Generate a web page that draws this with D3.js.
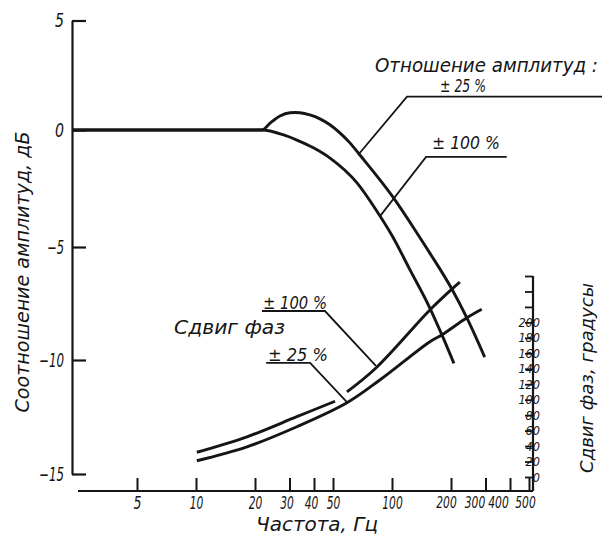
<!DOCTYPE html>
<html><head><meta charset="utf-8">
<script src="https://cdn.jsdelivr.net/npm/d3@7"></script>
<style>
body{margin:0;background:#fff}
svg text{font-family:"Liberation Sans Narrow","DejaVu Sans Condensed","Liberation Sans",sans-serif;font-style:italic;fill:#151515}
</style></head><body>
<svg id="c" width="602" height="537"></svg>
<script>
// ---- data ----
const freqTicks = [5, 10, 20, 30, 40, 50, 100, 200, 300, 400, 500];
const ampTicks = [5, 0, -5, -10, -15];
const phaseTicks = [0, 20, 40, 60, 80, 100, 120, 140, 160, 180, 200, 220, 240, 260];
const phaseLabels = [0, 20, 40, 60, 80, 100, 120, 140, 160, 180, 200];
// amplitude ratio ±25 %  [frequency Hz, dB]
const amp25 = [[2.33,0],[10,0],[21.7,0],[23.8,0.3],[26.8,0.64],[30.2,0.79],[32.0,0.8],[33.9,0.79],[38.1,0.69],[42.9,0.51],[48.2,0.24],[54.2,-0.12],[61.0,-0.55],[68.6,-1.07],[101,-2.86],[134,-4.4],[156,-5.27],[202,-6.86],[241,-8.14],[297,-9.87]];
// amplitude ratio ±100 %
const amp100 = [[2.33,0],[10,0],[21.7,0],[27.8,-0.2],[32.7,-0.43],[39.5,-0.75],[48.3,-1.2],[66.3,-2.26],[83.6,-3.46],[101,-4.57],[123,-5.98],[156,-7.7],[180,-8.9],[207,-10.15]];
// phase shift ±100 %  [frequency Hz, degrees]  (null = break in the drawn line)
const phase100 = [[10.1,32],[18.2,52],[32.7,78],[51.2,98],null,[58.9,110],[83.6,142],[156,216],[202,243],[222,252]];
// phase shift ±25 %
const phase25 = [[10.1,21],[18.2,39],[32.7,65],[58.9,96],[86.7,125.5],[156,175],[180,184],[241,206],[287,217]];

// ---- scales ----
const svg = d3.select("#c");
const x = d3.scaleLog().domain([2.5, 500]).range([78, 529]);
const yA = d3.scaleLinear().domain([-15, -10, -5, 0, 5]).range([474, 360, 247, 130, 20.5]);
const yP = d3.scaleLinear().domain([0, 260]).range([477, 276]);
const leftX = 72, rightX = x(500) + 4, baseY = 491;
const ink = "#151515";

// ---- left axis ----
const gL = svg.append("g").attr("transform", `translate(${leftX},0)`)
  .call(d3.axisLeft(yA).tickValues(ampTicks).tickSize(-14).tickSizeOuter(0).tickPadding(8));
gL.select(".domain").attr("stroke", ink).attr("stroke-width", 2.2);
gL.selectAll(".tick line").attr("stroke", ink).attr("stroke-width", 2.2);
gL.selectAll(".tick text").style("font-size", "19px").attr("fill", ink)
  .each(function(d){ const s = String(d).length; d3.select(this).attr("textLength", d < 0 ? 9 + 8*(s-1) : 9).attr("lengthAdjust","spacingAndGlyphs"); });

// ---- bottom axis ----
const labShift = {200: -5, 300: -11, 400: -12, 500: -4, 30: -3, 40: -3};
const gB = svg.append("g").attr("transform", `translate(0,${baseY})`)
  .call(d3.axisBottom(x).tickValues(freqTicks).tickSize(-13).tickSizeOuter(0).tickPadding(6).tickFormat(d3.format("d")));
gB.select(".domain").remove();
gB.append("line").attr("x1", x(2.5)).attr("x2", rightX).attr("stroke", ink).attr("stroke-width", 2.2);
gB.selectAll(".tick line").attr("stroke", ink).attr("stroke-width", 2);
gB.selectAll(".tick text").style("font-size", d => d >= 200 ? "15px" : "17px").attr("fill", ink)
  .attr("dx", d => labShift[d] || 0)
  .attr("textLength", d => String(d).length > 1 ? 6.8*String(d).length : 8).attr("lengthAdjust","spacingAndGlyphs");

// ---- right (phase) axis ----
const gR = svg.append("g").attr("transform", `translate(${rightX},0)`)
  .call(d3.axisLeft(yP).tickValues(phaseTicks).tickSize(8).tickSizeOuter(0).tickFormat(""));
gR.select(".domain").remove();
gR.append("line").attr("y1", yP(260)).attr("y2", baseY).attr("stroke", ink).attr("stroke-width", 2.2);
gR.selectAll(".tick line").attr("stroke", ink).attr("stroke-width", 1.8);
gR.selectAll(".lab").data(phaseLabels).join("text").attr("class", "lab")
  .attr("x", 7).attr("y", d => yP(d)).attr("dy", "0.36em")
  .style("font-size", "12.5px")
  .attr("textLength", d => 7.2*String(d).length).attr("lengthAdjust","spacingAndGlyphs")
  .text(d => d);

// ---- curves ----
const lineA = d3.line().x(d => x(d[0])).y(d => yA(d[1])).curve(d3.curveMonotoneX);
const lineP = d3.line().defined(d => d).x(d => x(d[0])).y(d => yP(d[1])).curve(d3.curveCatmullRom.alpha(0.5));
[amp25, amp100].forEach(s => svg.append("path").attr("d", lineA(s)).attr("fill", "none").attr("stroke", ink).attr("stroke-width", 2.9));
[phase100, phase25].forEach(s => svg.append("path").attr("d", lineP(s)).attr("fill", "none").attr("stroke", ink).attr("stroke-width", 2.9));

// ---- leader lines (data coordinates) ----
const leadersA = [
  [[67.1,-1.07],[119.3,1.52],[1200,1.52]],
  [[86.9,-3.68],[149.2,-1.15],[385,-1.15]]
];
const leadersP = [
  [[82.8,143.6],[45.5,214.7],[21.7,214.7]],
  [[58.9,97],[38.2,147.5],[22.8,147.5]]
];
const lA = d3.line().x(d => x(d[0])).y(d => yA(d[1]));
const lP = d3.line().x(d => x(d[0])).y(d => yP(d[1]));
leadersA.forEach(s => svg.append("path").attr("d", lA(s)).attr("fill", "none").attr("stroke", ink).attr("stroke-width", 1.8));
leadersP.forEach(s => svg.append("path").attr("d", lP(s)).attr("fill", "none").attr("stroke", ink).attr("stroke-width", 1.8));

// ---- texts ----
function txt(t, px, py, size, len, rot) {
  const e = svg.append("text").attr("x", px).attr("y", py).style("font-size", size + "px").text(t);
  if (len) e.attr("textLength", len).attr("lengthAdjust", "spacingAndGlyphs");
  if (rot) e.attr("transform", `rotate(-90 ${px} ${py})`).attr("text-anchor", "middle");
  return e;
}
txt("Отношение амплитуд :", 375, 72, 19, 223);
txt("± 25 %", 440, 92, 17, 46);
txt("± 100 %", 432, 149, 17, 68);
txt("± 100 %", 263, 309, 17, 64);
txt("Сдвиг фаз", 174, 334, 19, 111);
txt("± 25 %", 268, 361, 17, 60);
txt("Частота, Гц", 256, 531, 19, 122);
txt("Соотношение амплитуд, дБ", 29, 272, 19, 281, true);
txt("Сдвиг фаз, градусы", 593, 378, 18, 190, true);
</script>
</body></html>
